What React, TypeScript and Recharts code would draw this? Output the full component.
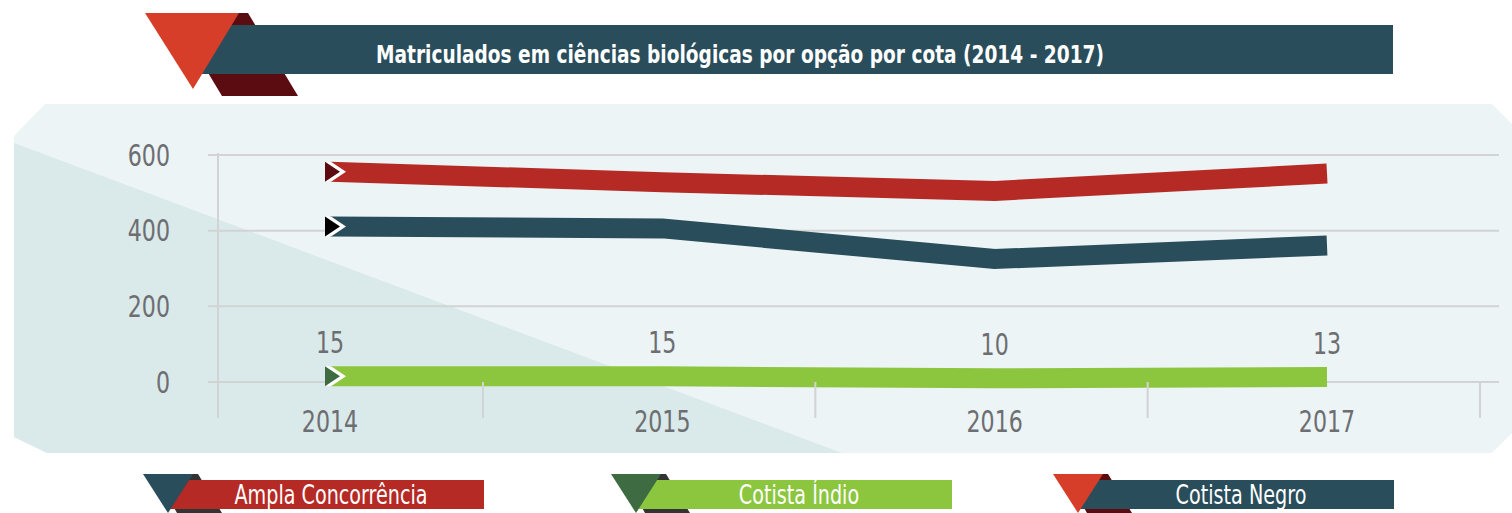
import React from 'react';
import { LineChart, Line, XAxis, YAxis, CartesianGrid, LabelList, Legend } from 'recharts';

const years = ['2014', '2015', '2016', '2017'];
const ampla = [556, 528, 505, 551];
const india = [15, 15, 10, 13];
const negro = [411, 406, 325, 361];
const yTicks = [0, 200, 400, 600];

const title = 'Matriculados em ciências biológicas por opção por cota (2014 - 2017)';

const series = [
  { key: 'ampla', name: 'Ampla Concorrência', color: '#B52A25', marker: '#5C0C10', flag: '#294D5B', shadow: '#333333' },
  { key: 'india', name: 'Cotista Índio', color: '#8CC63F', marker: '#3E6B41', flag: '#3E6B41', shadow: '#333333' },
  { key: 'negro', name: 'Cotista Negro', color: '#294D5B', marker: '#000000', flag: '#D63E2A', shadow: '#5B0C10' },
];

const data = years.map((year, i) => ({ year, ampla: ampla[i], india: india[i], negro: negro[i] }));

const FONT = "'Liberation Sans Narrow', 'DejaVu Sans Condensed', 'Open Sans', sans-serif";
const W = 1512;
const H = 513;
const GRID = '#D1D3D4';
const AXIS_TEXT = '#6D6E71';
const SQUEEZE = 0.82; // the original uses a condensed face

// legend item left edges (triangle corner)
const legendX = [143, 611, 1053];

// horizontally squeezed text, stands in for the condensed font
const NarrowText = ({ x, y, anchor = 'middle', fill = AXIS_TEXT, size = 30, dy, children }: any) => (
  <g transform={`translate(${x},${y}) scale(${SQUEEZE},1)`}>
    <text x={0} y={0} dy={dy} textAnchor={anchor} fill={fill} fontSize={size} fontFamily={FONT}>
      {children}
    </text>
  </g>
);

// arrow marker at the first point of each line
const startMarker = (fill: string) => (props: any) => {
  const { cx, cy, index } = props;
  if (index !== 0 || cx == null) return <g key={`m${index}`} />;
  return (
    <g key="m0">
      <polygon
        points={`${cx - 5},${cy - 10} ${cx + 1},${cy - 10} ${cx + 16},${cy} ${cx + 1},${cy + 10} ${cx - 5},${cy + 10}`}
        fill="#fff"
      />
      <polygon points={`${cx - 5},${cy - 10} ${cx + 10},${cy} ${cx - 5},${cy + 10}`} fill={fill} />
    </g>
  );
};

// year label + separator ticks below the axis
const YearTick = (props: any) => {
  const { x, y, payload, index } = props;
  return (
    <g>
      {index === 0 && <line x1={x - 112} x2={x - 112} y1={y - 229} y2={y + 36} stroke={GRID} strokeWidth={2} />}
      <line x1={x + 153} x2={x + 153} y1={y} y2={y + 36} stroke={GRID} strokeWidth={2} />
      <NarrowText x={x} y={y + 50}>{payload.value}</NarrowText>
    </g>
  );
};

const ValueTick = (props: any) => {
  const { x, y, payload } = props;
  return (
    <NarrowText x={x} y={y} anchor="end" dy="0.36em">
      {payload.value}
    </NarrowText>
  );
};

const LegendContent = (props: any) => {
  const payload = props.payload || [];
  const items = series.map((s) => ({ s, entry: payload.find((e: any) => e.dataKey === s.key) }));
  return (
    <svg width={W} height={53}>
      {items.map(({ s, entry }, i) => {
        const x0 = legendX[i];
        return (
          <g key={s.key}>
            <polygon points={`${x0 + 12},14 ${x0 + 55},14 ${x0 + 79},53 ${x0 + 34},53`} fill={s.shadow} />
            <rect x={x0 + 25} y={20} width={316} height={29} fill={entry ? entry.color : s.color} />
            <polygon points={`${x0},14 ${x0 + 50},14 ${x0 + 25},53`} fill={s.flag} />
            <NarrowText x={x0 + 188} y={44} fill="#fff" size={26}>
              {entry ? entry.value : s.name}
            </NarrowText>
          </g>
        );
      })}
    </svg>
  );
};

export default function App() {
  return (
    <div style={{ position: 'absolute', left: 0, top: 0, width: W, height: H, background: '#fff' }}>
      <svg width={W} height={H} style={{ position: 'absolute', left: 0, top: 0 }}>
        {/* panel */}
        <polygon points="45,104 1492,104 1512,124 1512,433 1492,453 47,453 14,437 14,136" fill="#ECF4F6" />
        <polygon points="14,143 842,453 47,453 14,437" fill="#DAE9E9" />
        {/* title banner */}
        <polygon points="172,13 248,13 298,96 222,96" fill="#5B0C10" />
        <rect x={190} y={25} width={1203} height={49} fill="#294D5B" />
        <polygon points="145,13 239,13 193,89" fill="#D63E2A" />
        <text
          x={740}
          y={63}
          textAnchor="middle"
          fill="#fff"
          fontSize={25}
          fontWeight="bold"
          fontFamily={FONT}
          textLength={728}
          lengthAdjust="spacingAndGlyphs"
        >
          {title}
        </text>
      </svg>
      <div style={{ position: 'absolute', left: 0, top: 0 }}>
        <LineChart width={W} height={H} data={data} margin={{ top: 155, right: 13, bottom: 91, left: 148 }}>
          <CartesianGrid vertical={false} stroke={GRID} strokeWidth={2} />
          <XAxis
            dataKey="year"
            height={40}
            padding={{ left: 122, right: 172 }}
            axisLine={false}
            tickLine={false}
            tickSize={0}
            tickMargin={0}
            tick={<YearTick />}
            interval={0}
          />
          <YAxis
            width={60}
            domain={[0, 600]}
            ticks={yTicks}
            axisLine={false}
            tickLine={false}
            tickSize={0}
            tickMargin={38}
            tick={<ValueTick />}
          />
          <Legend
            layout="horizontal"
            verticalAlign="middle"
            align="center"
            content={<LegendContent />}
            wrapperStyle={{ left: 0, top: 460, width: W, height: 53 }}
          />
          {series.map((s) => (
            <Line
              key={s.key}
              dataKey={s.key}
              name={s.name}
              stroke={s.color}
              strokeWidth={20}
              strokeLinecap="butt"
              strokeLinejoin="miter"
              type="linear"
              dot={startMarker(s.marker)}
              activeDot={false}
              isAnimationActive={false}
            >
              {s.key === 'india' && (
                <LabelList
                  dataKey="india"
                  content={(p: any) => (
                    <NarrowText key={`l${p.index}`} x={p.x} y={p.y - 23}>
                      {p.value}
                    </NarrowText>
                  )}
                />
              )}
            </Line>
          ))}
        </LineChart>
      </div>
    </div>
  );
}
